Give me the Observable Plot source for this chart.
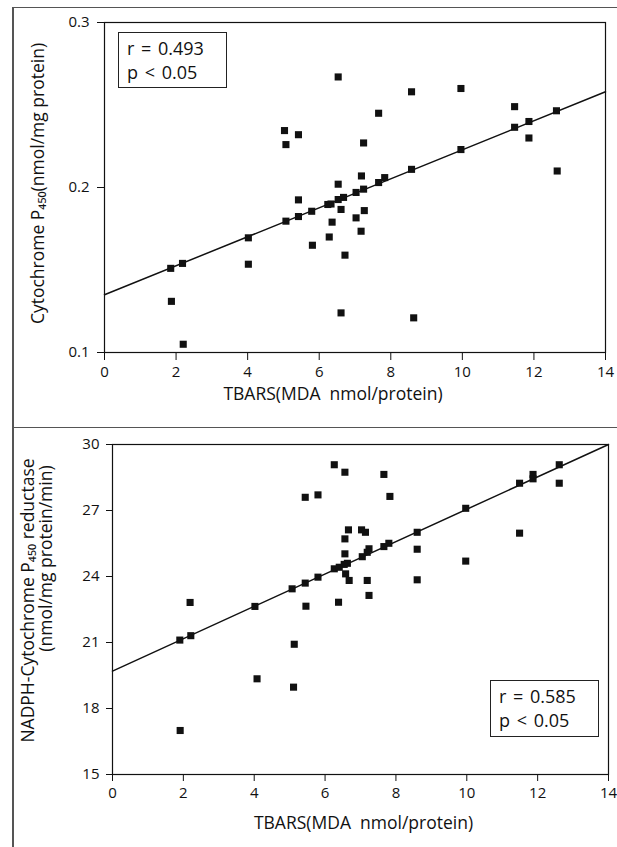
<!DOCTYPE html>
<html><head><meta charset="utf-8">
<script src="https://cdn.jsdelivr.net/npm/d3@7"></script>
<script src="https://cdn.jsdelivr.net/npm/@observablehq/plot@0.6"></script>
<style>
body{margin:0;background:#fff;}
#wrap{position:relative;width:617px;height:847px;overflow:hidden;font-family:"Open Sans",sans-serif;background:#fff;}
.panel{position:absolute;left:0;}
.box{position:absolute;border:1px solid #222;background:#fff;font-size:18px;line-height:24px;word-spacing:2px;padding:3px 0 0 8px;box-sizing:border-box;color:#111;white-space:nowrap;}
.rule{position:absolute;background:#555;}
</style>
</head><body>
<div id="wrap">
  <div class="rule" style="left:12px;top:7px;width:2px;height:840px;"></div>
  <div class="rule" style="left:13px;top:7px;width:604px;height:1px;"></div>
  <div class="rule" style="left:13px;top:427px;width:604px;height:1px;"></div>
  <div id="top" class="panel" style="top:0"></div>
  <div id="bot" class="panel" style="top:420px"></div>
  <div class="box" style="left:118px;top:32px;width:109px;height:56px;">r = 0.493<br>p &lt; 0.05</div>
  <div class="box" style="left:490px;top:680px;width:109px;height:57px;">r = 0.585<br>p &lt; 0.05</div>
</div>
<script>
// X ticks shared by both panels
const xTicks = [0, 2, 4, 6, 8, 10, 12, 14];
const xTitle = "TBARS(MDA  nmol/protein)";

// Top panel: Cytochrome P450 vs TBARS
const topX = [6.53,5.03,5.42,5.07,8.58,9.96,7.66,11.46,12.63,11.46,11.86,11.86,7.24,9.96,12.65,8.58,7.18,7.83,7.66,7.24,7.03,6.68,6.53,5.42,6.53,6.33,6.24,5.79,5.07,5.42,6.61,6.36,7.03,7.26,7.17,6.28,5.81,6.72,4.02,4.02,1.85,2.18,1.87,6.61,8.64,2.2];
const topY = [0.267,0.2345,0.232,0.226,0.258,0.260,0.245,0.249,0.2465,0.2365,0.240,0.230,0.227,0.223,0.210,0.211,0.207,0.206,0.203,0.199,0.197,0.194,0.202,0.1925,0.1927,0.190,0.1897,0.1856,0.1796,0.1824,0.1867,0.179,0.1816,0.186,0.1735,0.170,0.165,0.159,0.1695,0.1535,0.151,0.154,0.131,0.124,0.121,0.105];
const topYTicks = [0.1, 0.2, 0.3];
const topFitX = [0, 14];
const topFitY = [0.135, 0.258];
const topYTitle = "Cytochrome P\u2084\u2085\u2080(nmol/mg protein)";

// Bottom panel: NADPH-Cytochrome P450 reductase vs TBARS
const botX = [6.26,6.56,5.44,5.80,6.66,6.56,6.56,6.63,6.54,6.26,6.40,6.58,6.68,5.80,5.44,5.07,5.46,6.38,4.02,2.19,2.21,1.90,5.13,4.08,5.11,1.91,7.66,7.83,11.49,11.87,11.87,12.61,12.61,9.97,11.49,8.60,8.60,9.97,8.60,7.03,7.14,7.80,7.66,7.24,7.19,7.05,7.19,7.24];
const botY = [29.08,28.74,27.6,27.71,26.12,25.71,25.03,24.6,24.55,24.35,24.42,24.12,23.82,23.97,23.7,23.44,22.65,22.83,22.64,22.82,21.31,21.11,20.92,19.35,18.97,17.0,28.64,27.64,28.24,28.64,28.44,29.08,28.24,27.1,25.97,26.01,25.24,24.7,23.85,26.12,26.01,25.51,25.36,25.26,25.1,24.9,23.82,23.14];
const botYTicks = [15, 18, 21, 24, 27, 30];
const botFitX = [0, 14];
const botFitY = [19.7, 30.0];
const botYTitle1 = "NADPH-Cytochrome P\u2084\u2085\u2080 reductase";
const botYTitle2 = "(nmol/mg protein/min)";

const topPts = topX.map((x, i) => ({x, y: topY[i]}));
const botPts = botX.map((x, i) => ({x, y: botY[i]}));
const topFit = topFitX.map((x, i) => ({x, y: topFitY[i]}));
const botFit = botFitX.map((x, i) => ({x, y: botFitY[i]}));

const font = {fontFamily: "'Open Sans', sans-serif", fontSize: "15px", color: "#111", background: "transparent", overflow: "visible"};
const TS = 17.5;

const topPlot = Plot.plot({
  width: 617, height: 420,
  marginLeft: 104, marginRight: 12, marginTop: 22, marginBottom: 68,
  style: font,
  x: {domain: [0, 14], ticks: xTicks, tickSize: 8, tickPadding: 6, label: null},
  y: {domain: [0.1, 0.3], ticks: topYTicks, tickSize: 7, tickPadding: 8, tickFormat: d => d.toFixed(1), label: null},
  marks: [
    Plot.frame({stroke: "#111", strokeWidth: 1.2}),
    Plot.line(topFit, {x: "x", y: "y", stroke: "#111", strokeWidth: 1.5}),
    Plot.dot(topPts, {x: "x", y: "y", symbol: "square", r: 4, fill: "#111", stroke: "none"}),
    Plot.text([xTitle], {text: d => d, frameAnchor: "bottom", dx: -22, dy: 47, fontSize: TS, fill: "#111"}),
    Plot.text([topYTitle], {text: d => d, frameAnchor: "left", textAnchor: "middle", rotate: -90, dx: -66, dy: -4, fontSize: TS, fill: "#111"})
  ]
});
document.getElementById("top").appendChild(topPlot);

const botPlot = Plot.plot({
  width: 617, height: 427,
  marginLeft: 112, marginRight: 9, marginTop: 24, marginBottom: 73,
  style: font,
  x: {domain: [0, 14], ticks: xTicks, tickSize: 7, tickPadding: 6, label: null},
  y: {domain: [15, 30], ticks: botYTicks, tickSize: 6, tickPadding: 7, label: null},
  marks: [
    Plot.frame({stroke: "#111", strokeWidth: 1.2}),
    Plot.line(botFit, {x: "x", y: "y", stroke: "#111", strokeWidth: 1.5}),
    Plot.dot(botPts, {x: "x", y: "y", symbol: "square", r: 4, fill: "#111", stroke: "none"}),
    Plot.text([xTitle], {text: d => d, frameAnchor: "bottom", dx: 3, dy: 54, fontSize: TS, fill: "#111"}),
    Plot.text([botYTitle1], {text: d => d, frameAnchor: "left", textAnchor: "middle", rotate: -90, dx: -84, dy: -9, fontSize: TS, fill: "#111"}),
    Plot.text([botYTitle2], {text: d => d, frameAnchor: "left", textAnchor: "middle", rotate: -90, dx: -66, dy: -51, fontSize: TS, fill: "#111"})
  ]
});
document.getElementById("bot").appendChild(botPlot);
</script>
</body></html>
